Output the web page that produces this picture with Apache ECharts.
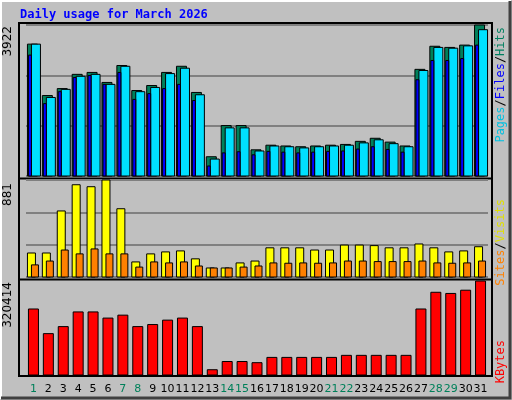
<!DOCTYPE html><html><head><meta charset="utf-8">
<script src="https://cdn.jsdelivr.net/npm/echarts@6/dist/echarts.min.js"></script>
<style>html,body{margin:0;padding:0;background:#c0c0c0}#c{width:512px;height:400px}</style></head><body><div id="c"></div><script>
const days=['1','2','3','4','5','6','7','8','9','10','11','12','13','14','15','16','17','18','19','20','21','22','23','24','25','26','27','28','29','30','31'];
const weekend=[1,7,8,14,15,21,22,28,29];
const hits=[3425,2090,2270,2640,2690,2430,2870,2220,2350,2690,2850,2170,500,1310,1310,680,800,780,760,780,800,820,900,980,880,780,2770,3370,3340,3400,3922];
const files=[3425,2040,2250,2590,2640,2380,2850,2190,2300,2660,2800,2110,440,1250,1250,650,780,760,730,760,780,800,860,940,840,760,2740,3340,3320,3380,3800];
const pages=[3140,1880,2190,2560,2610,2380,2690,1990,2140,2270,2380,1960,260,600,630,550,640,620,600,620,640,650,700,760,690,620,2500,3000,3000,3050,3400];
const visits=[218,218,600,838,820,881,620,137,210,228,237,165,82,82,128,145,265,265,265,245,245,290,290,285,265,265,300,265,228,237,275];
const sites=[110,145,245,210,255,210,210,90,137,128,137,100,82,82,90,100,128,125,128,125,128,145,145,140,140,140,145,128,125,128,145];
const kbytes=[225000,141000,165000,215000,215000,194000,204000,165000,172000,187000,194000,165000,18000,46000,46000,42000,60000,60000,60000,60000,60000,67000,67000,67000,67000,67000,225000,282000,278000,289000,320414];
const maxHits=3922,maxVisits=881,maxK=320414;
function bars(gi,data,x0,x1,color,z){
 return {type:'custom',xAxisIndex:gi,yAxisIndex:gi,z:z,data:data.map((v,i)=>[i,v]),
 renderItem:(p,api)=>{const b=api.coord([api.value(0),0]);const t=api.coord([api.value(0),api.value(1)]);
 return {type:'rect',shape:{x:b[0]+x0,y:t[1],width:x1-x0,height:b[1]-t[1]},style:{fill:color,stroke:'#000',lineWidth:1}};}};
}
const grids=[{left:26,right:24,top:25,height:151},{left:26,right:24,top:180,height:97},{left:26,right:24,top:281,height:94}];
const xA=grids.map((g,i)=>({type:'category',gridIndex:i,data:days,boundaryGap:true,axisLine:{show:false},axisTick:{show:false},
 axisLabel:{show:i==2,margin:9,fontFamily:'DejaVu Sans',fontSize:11,interval:0,color:(v)=>weekend.includes(+v)?'#00805a':'#000'}}));
const yA=[maxHits,maxVisits,maxK].map((m,i)=>({type:'value',gridIndex:i,min:0,max:m,interval:m/3,axisLabel:{show:false},axisLine:{show:false},axisTick:{show:false},
 splitLine:{show:i<2,lineStyle:{color:'#808080',width:2}}}));
const chart=echarts.init(document.getElementById('c'));
const vl=(x,y,t,c)=>({type:'text',x:x,y:y,rotation:Math.PI/2,style:{text:t,fill:c,font:'12px "DejaVu Sans"',textAlign:'right',textVerticalAlign:'middle'}});
const M='12px "DejaVu Sans Mono"';
chart.setOption({animation:false,backgroundColor:'#c0c0c0',grid:grids,xAxis:xA,yAxis:yA,
 graphic:[
  {type:'rect',z:-10,shape:{x:0,y:0,width:512,height:400},style:{fill:'#c0c0c0'}},
  {type:'polyline',shape:{points:[[1,399],[1,1],[511,1]]},style:{stroke:'#fff',lineWidth:2,fill:null}},
  {type:'polyline',shape:{points:[[1,398],[510,398],[510,1]]},style:{stroke:'#404040',lineWidth:3,fill:null}},
  {type:'rect',z:-5,shape:{x:19,y:23,width:473,height:353},style:{fill:'#c0c0c0',stroke:'#000',lineWidth:2}},
  {type:'line',shape:{x1:19,y1:178.5,x2:492,y2:178.5},style:{stroke:'#000',lineWidth:2}},
  {type:'line',shape:{x1:19,y1:279.5,x2:492,y2:279.5},style:{stroke:'#000',lineWidth:2}},
  {type:'text',x:20,y:15,style:{text:'Daily usage for March 2026',fill:'#0000ff',font:'bold 12px "DejaVu Sans Mono"',textVerticalAlign:'middle'}},
  vl(8,26,'3922','#000'),vl(8,183,'881','#000'),vl(8,282,'320414','#000'),
  {type:'text',x:501,y:27,rotation:Math.PI/2,style:{rich:{p:{fill:'#00c0e0',font:M},f:{fill:'#0000ff',font:M},h:{fill:'#008060',font:M},s:{fill:'#000',font:M}},text:'{p|Pages}{s|/}{f|Files}{s|/}{h|Hits}',textAlign:'right',textVerticalAlign:'middle'}},
  {type:'text',x:501,y:199,rotation:Math.PI/2,style:{rich:{a:{fill:'#ff8000',font:M},b:{fill:'#e0e000',font:M},s:{fill:'#000',font:M}},text:'{a|Sites}{s|/}{b|Visits}',textAlign:'right',textVerticalAlign:'middle'}},
  {type:'text',x:501,y:340,rotation:Math.PI/2,style:{text:'KBytes',fill:'#ff0000',font:M,textAlign:'right',textVerticalAlign:'middle'}}
 ],
 series:[bars(0,hits,-6,4,'#00805a',2),bars(0,files,-2,7,'#00e0ff',3),bars(0,pages,-5,-2,'#0000ff',4),
  bars(1,visits,-6,2,'#ffff00',2),bars(1,sites,-2,5,'#ff8000',3),bars(2,kbytes,-5,5,'#ff0000',2)]});
</script></body></html>
